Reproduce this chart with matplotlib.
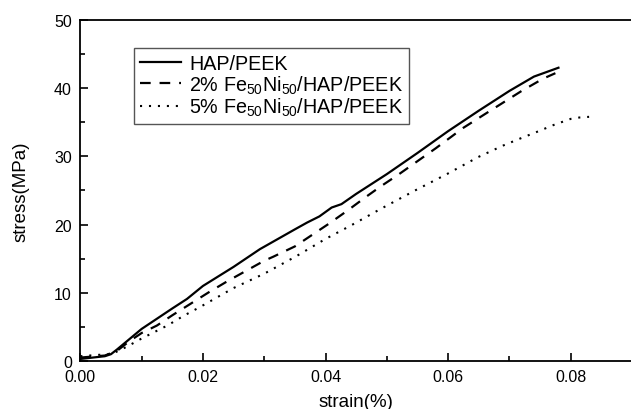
import numpy as np
import matplotlib
matplotlib.use("Agg")
import matplotlib.pyplot as plt

plt.rcParams['font.family'] = ['Liberation Sans', 'DejaVu Sans']
plt.rcParams['mathtext.fontset'] = 'custom'
plt.rcParams['mathtext.rm'] = 'Liberation Sans'
plt.rcParams['mathtext.it'] = 'Liberation Sans'
plt.rcParams['mathtext.default'] = 'regular'

# stress-strain curves
strain_hap = [0.0, 0.002, 0.004, 0.005, 0.006, 0.008, 0.010, 0.0125, 0.015, 0.0174, 0.020, 0.025,
              0.0293, 0.035, 0.037, 0.039, 0.041, 0.0426, 0.045, 0.050, 0.055, 0.060, 0.065,
              0.070, 0.074, 0.078]
stress_hap = [0.3, 0.5, 0.7, 1.0, 1.7, 3.2, 4.7, 6.2, 7.7, 9.1, 11.0, 13.8,
              16.4, 19.3, 20.3, 21.2, 22.5, 23.0, 24.5, 27.4, 30.5, 33.7, 36.7,
              39.6, 41.7, 43.0]

strain_2fe = [0.0, 0.004, 0.006, 0.008, 0.010, 0.0125, 0.015, 0.018, 0.021, 0.024, 0.027, 0.030,
              0.0315, 0.035, 0.038, 0.0405, 0.0435, 0.0465, 0.049, 0.052, 0.055, 0.058,
              0.0625, 0.066, 0.069, 0.072, 0.0755, 0.0775]
stress_2fe = [0.5, 0.8, 1.5, 2.9, 4.1, 5.2, 6.7, 8.4, 10.1, 11.7, 13.2, 14.7,
              15.3, 16.8, 18.6, 20.1, 22.0, 24.0, 25.6, 27.4, 29.3, 31.2,
              34.2, 36.2, 37.9, 39.6, 41.4, 42.2]

strain_5fe = [0.0, 0.003, 0.005, 0.006, 0.0076, 0.010, 0.0142, 0.0168, 0.0195, 0.025, 0.030,
              0.0353, 0.040, 0.044, 0.049, 0.0546, 0.060, 0.0649, 0.069, 0.0717, 0.0745,
              0.0772, 0.080, 0.0814, 0.083]
stress_5fe = [0.7, 0.9, 1.0, 1.4, 2.1, 3.3, 5.2, 6.6, 7.9, 10.7, 12.8,
              15.4, 17.9, 19.8, 22.3, 25.0, 27.5, 29.9, 31.6, 32.6, 33.6,
              34.6, 35.5, 35.7, 35.8]

labels = ['HAP/PEEK', '2% Fe$_{50}$Ni$_{50}$/HAP/PEEK', '5% Fe$_{50}$Ni$_{50}$/HAP/PEEK']

fig = plt.figure(figsize=(6.31, 4.10), dpi=100)
ax = fig.add_axes([0.1273, 0.1171, 0.8743, 0.8317])

ax.plot(strain_hap, stress_hap, color='black', lw=1.6, ls='-', label=labels[0])
ax.plot(strain_2fe, stress_2fe, color='black', lw=1.6, ls=(0, (4.8, 4.0)), label=labels[1])
ax.plot(strain_5fe, stress_5fe, color='black', lw=1.5, ls=(0, (1, 3.3)), label=labels[2])

ax.set_xlim(0, 0.09)
ax.set_ylim(0, 50)
ax.set_xticks([0.0, 0.02, 0.04, 0.06, 0.08])
ax.set_xticks([0.01, 0.03, 0.05, 0.07], minor=True)
ax.set_yticks([0, 10, 20, 30, 40, 50])
ax.set_yticks([5, 15, 25, 35, 45], minor=True)
ax.xaxis.set_major_formatter(matplotlib.ticker.FormatStrFormatter('%.2f'))

ax.tick_params(which='both', direction='in', width=1.2, labelsize=11.5)
ax.tick_params(which='major', length=6)
ax.tick_params(which='minor', length=3.5)
ax.tick_params(axis='y', pad=6)
ax.tick_params(axis='x', pad=6)
for s in ax.spines.values():
    s.set_linewidth(1.3)

ax.set_xlabel('strain(%)', fontsize=13.5, labelpad=6)
ax.set_ylabel('stress(MPa)', fontsize=13.5, labelpad=18)

leg = ax.legend(loc='upper left', bbox_to_anchor=(0.0975, 0.917), fontsize=14.2,
                fancybox=False, framealpha=1, edgecolor='#555555',
                handlelength=2.1, handletextpad=0.4, labelspacing=0.0,
                borderpad=0.3, borderaxespad=0)
leg.get_frame().set_linewidth(1.0)

fig.savefig('out.png', dpi=100)
